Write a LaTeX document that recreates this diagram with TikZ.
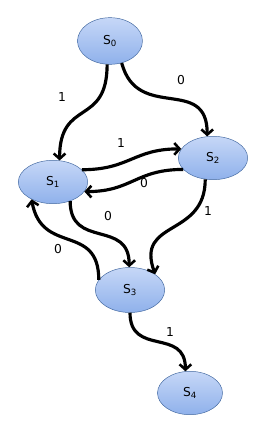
\documentclass[tikz,border=0pt]{standalone}
\usepackage{fontspec}
\setmainfont{DejaVu Sans}
\usetikzlibrary{arrows.meta,shapes.geometric}
\definecolor{nodetop}{HTML}{C6D7F7}
\definecolor{nodebot}{HTML}{8FB1EB}
\definecolor{nodeline}{HTML}{41679F}

\begin{document}
\begin{tikzpicture}[x=0.03cm, y=-0.03cm,
                    >={Straight Barb[length=4.5pt,width=10pt,line width=2.2pt]},
                    every node/.style={font=\fontsize{10.5}{12}\selectfont},
                    state/.style={ellipse, draw=nodeline, thin, top color=nodetop,
                                  bottom color=nodebot, minimum width=2.08cm,
                                  minimum height=1.3cm, inner sep=0pt},
                    trans/.style={->, line width=2.7pt, black}]
  \useasboundingbox (0,0) rectangle (262,427);
  % states
  \node[state, minimum width=1.95cm, minimum height=1.4cm] (s0) at (110,41) {S\textsubscript{0}};
  \node[state] (s1) at (53,182)  {S\textsubscript{1}};
  \node[state] (s2) at (213,158) {S\textsubscript{2}};
  \node[state, minimum height=1.35cm] (s3) at (130,290) {S\textsubscript{3}};
  \node[state, minimum width=1.95cm] (s4) at (190,393) {S\textsubscript{4}};
  % transitions
  \draw[trans] (s0.263) to[out=-90, in=90, looseness=1.5] (s1.73);
  \draw[trans] (s0.298) to[out=-75, in=90, looseness=1.4] (s2.105);
  \draw[trans] (s1.23)  to[out=0, in=180, looseness=1.2] (s2.164);
  \draw[trans] (s2.201) to[out=180, in=0, looseness=1.2] (s1.343);
  \draw[trans] (s1.312) to[out=-90, in=90, looseness=1.4] (s3.92);
  \draw[trans] (s2.250) to[out=-90, in=110, looseness=1.4] (s3.32);
  \draw[trans] (s3.162) to[out=90, in=-80, looseness=1.4] (s1.219);
  \draw[trans] (s3.270) to[out=-90, in=90, looseness=1.4] (s4.102);
  % labels
  \node (l01) at (62,97)   {1};
  \node (l02) at (181,80)  {0};
  \node (l12) at (121,143) {1};
  \node (l21) at (144,183) {0};
  \node (l13) at (108,216) {0};
  \node (l23) at (208,211) {1};
  \node (l31) at (58,249)  {0};
  \node (l34) at (170,332) {1};
\end{tikzpicture}
\end{document}
